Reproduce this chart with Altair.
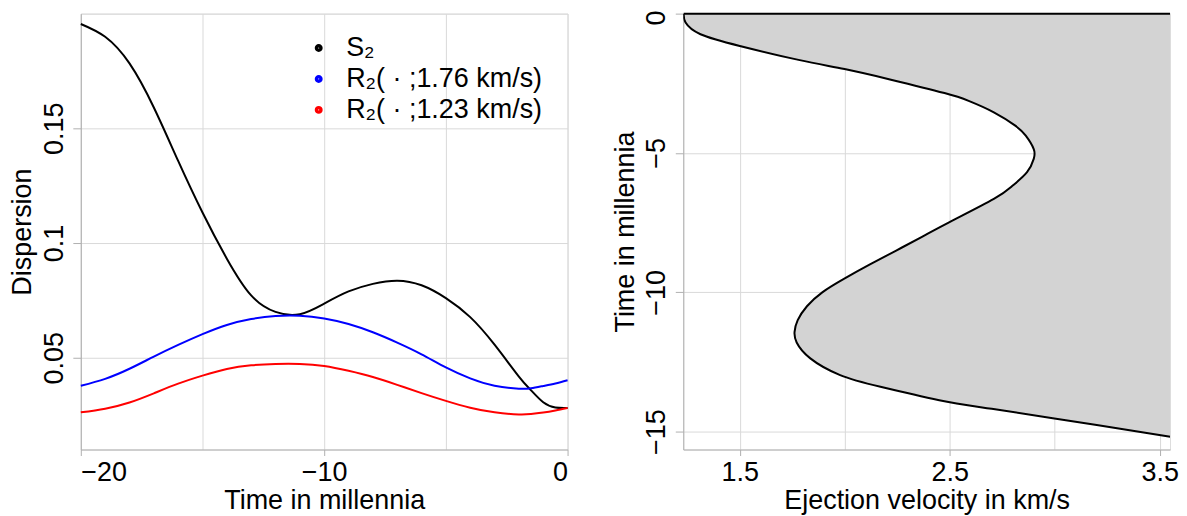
import altair as alt
import pandas as pd

# ---------------- data: left panel (dispersion vs time) ----------------
time_k = [-20, -19, -18, -17, -16, -15, -14, -13, -12, -11, -10, -9, -8, -7, -6, -5, -4, -3, -2, -1.5, -1, -0.5, 0]
s2 = [0.1955, 0.1899, 0.1783, 0.1591, 0.1358, 0.1133, 0.0932, 0.0772, 0.0700, 0.0690, 0.0736, 0.0789, 0.0822,
      0.0836, 0.0816, 0.0760, 0.0677, 0.0557, 0.0418, 0.0358, 0.0306, 0.0283, 0.0281]
r2_176 = [0.0378, 0.0408, 0.0452, 0.0505, 0.0556, 0.0603, 0.0643, 0.0669, 0.0682, 0.0683, 0.0671, 0.0647, 0.0611,
          0.0566, 0.0515, 0.0458, 0.0410, 0.0378, 0.0365, 0.0367, 0.0377, 0.0388, 0.0402]
r2_123 = [0.0262, 0.0278, 0.0305, 0.0345, 0.0387, 0.0422, 0.0451, 0.0467, 0.0473, 0.0473, 0.0464, 0.0443, 0.0416,
          0.0382, 0.0346, 0.0312, 0.0282, 0.0262, 0.0253, 0.0255, 0.0261, 0.0270, 0.0281]
series_names = ["S\u2082", "R\u2082( \u00b7 ;1.76 km/s)", "R\u2082( \u00b7 ;1.23 km/s)"]
series_colors = ["black", "blue", "red"]

# ---------------- data: right panel (boundary curve) ----------------
bound_t = [0, -0.32, -0.74, -1.16, -1.66, -1.99, -2.37, -2.85, -3.13, -3.54, -4.02, -4.38, -4.86, -5.21, -5.69,
           -6.17, -6.65, -7.48, -8.0, -8.5, -9.0, -9.5, -10.0, -10.5, -11.0, -11.42, -11.8, -12.37, -12.97,
           -13.39, -13.87, -14.18, -14.76, -15.18]
bound_v = [1.233, 1.242, 1.313, 1.500, 1.780, 1.999, 2.220, 2.475, 2.590, 2.710, 2.812, 2.862, 2.900, 2.900,
           2.868, 2.800, 2.710, 2.499, 2.370, 2.245, 2.120, 2.000, 1.893, 1.820, 1.776, 1.761, 1.771, 1.836,
           1.978, 2.170, 2.450, 2.700, 3.200, 3.550]
vel_domain = [1.231, 3.549]
time_domain = [-15.64, 0]

left_x_grid = [-20, -15, -10, -5, 0]
left_y_grid = [0.05, 0.1, 0.15, 0.2]
right_x_grid = [1.5, 2, 2.5, 3, 3.5]
right_y_grid = [0, -5, -10, -15]

# ---------------- tables ----------------
n = len(time_k)
left_df = pd.DataFrame({
    "t": time_k * 3,
    "val": s2 + r2_176 + r2_123,
    "series": [series_names[0]] * n + [series_names[1]] * n + [series_names[2]] * n,
})
right_df = pd.DataFrame({
    "i": list(range(len(bound_t))),
    "t": bound_t,
    "v": bound_v,
    "vr": [vel_domain[1]] * len(bound_t),
})
top_df = pd.DataFrame({"v": [bound_v[0]], "v2": [vel_domain[1]], "t": [0.0]})

W, H = 488, 437
FS = 27
FONT = "Liberation Sans"


def hide_cond(test):
    return {"condition": {"test": test, "value": 0}, "value": 1}


common_axis = dict(labelFont=FONT, titleFont=FONT, labelFontSize=FS, titleFontSize=FS,
                   labelColor="black", titleColor="black", titleFontWeight="normal",
                   domainColor="#b0b0b0", tickColor="#b0b0b0", gridColor="#d9d9d9")

# ---------------- left panel ----------------
x_left = alt.X("t:Q", scale=alt.Scale(domain=[-20, 0], nice=False, zero=False),
               axis=alt.Axis(values=left_x_grid, title="Time in millennia",
                             labelExpr="datum.value % 10 == 0 ? datum.label : ''",
                             tickOpacity=hide_cond("datum.value % 10 != 0"),
                             tickSize=6, labelPadding=25, labelBaseline="alphabetic",
                             titleX=W / 2, titleY=59, titleBaseline="alphabetic", titleAlign="center",
                             **common_axis))
y_left = alt.Y("val:Q", scale=alt.Scale(domain=[0.01, 0.2], nice=False, zero=False),
               axis=alt.Axis(values=left_y_grid, title="Dispersion", format="~g",
                             labelExpr="datum.value > 0.19 ? '' : datum.label",
                             tickOpacity=hide_cond("datum.value > 0.19"),
                             labelAngle=270, labelAlign="center", labelBaseline="alphabetic",
                             tickSize=8, labelPadding=10,
                             titleAngle=270, titleX=-50, titleY=H / 2, titleBaseline="alphabetic",
                             titleAlign="center", **common_axis))

left = alt.Chart(left_df).mark_line(strokeWidth=2, interpolate="natural").encode(
    x=x_left,
    y=y_left,
    color=alt.Color("series:N",
                    scale=alt.Scale(domain=series_names, range=series_colors),
                    sort=series_names,
                    legend=alt.Legend(orient="none", legendX=225, legendY=21, title=None,
                                      symbolType="circle", symbolSize=12, symbolStrokeWidth=4.5,
                                      labelFont=FONT, labelFontSize=FS, labelLimit=600,
                                      labelOffset=14, rowPadding=3, padding=0)),
).properties(width=W, height=H)

# ---------------- right panel ----------------
x_right = alt.X("v:Q", scale=alt.Scale(domain=vel_domain, nice=False, zero=False),
                axis=alt.Axis(values=right_x_grid, title="Ejection velocity in km/s", format=".1f",
                              labelExpr="(datum.value == 2 || datum.value == 3) ? '' : datum.label",
                              tickOpacity=hide_cond("datum.value == 2 || datum.value == 3"),
                              tickSize=6, labelPadding=25, labelBaseline="alphabetic",
                              titleX=W / 2, titleY=59, titleBaseline="alphabetic", titleAlign="center",
                              **common_axis))
y_right = alt.Y("t:Q", scale=alt.Scale(domain=time_domain, nice=False, zero=False),
                axis=alt.Axis(values=right_y_grid, title="Time in millennia", format="d",
                              labelAngle=270, labelAlign="center", labelBaseline="alphabetic",
                              labelOffset={"condition": {"test": "datum.value == 0", "value": 4}, "value": 0},
                              tickSize=8, labelPadding=11,
                              titleAngle=270, titleX=-50, titleY=H / 2, titleBaseline="alphabetic",
                              titleAlign="center", **common_axis))

area = alt.Chart(right_df).mark_area(orient="horizontal", color="#d3d3d3", interpolate="natural",
                                     clip=True).encode(
    x=x_right, x2="vr:Q", y=y_right)
curve = alt.Chart(right_df).mark_line(color="black", strokeWidth=2, interpolate="natural",
                                      clip=True).encode(
    x="v:Q", y="t:Q", order="i:Q")
top_edge = alt.Chart(top_df).mark_rule(color="black", strokeWidth=2).encode(
    x="v:Q", x2="v2:Q", y="t:Q")

right = alt.layer(area, curve, top_edge).properties(width=W, height=H)

chart = alt.hconcat(left, right, spacing=116, bounds="flush").properties(
    padding={"top": 0, "left": 0, "right": 0, "bottom": 0}
).configure_view(stroke=None).configure(font=FONT)

chart.save("out.html", embed_options={"renderer": "svg", "actions": False})
